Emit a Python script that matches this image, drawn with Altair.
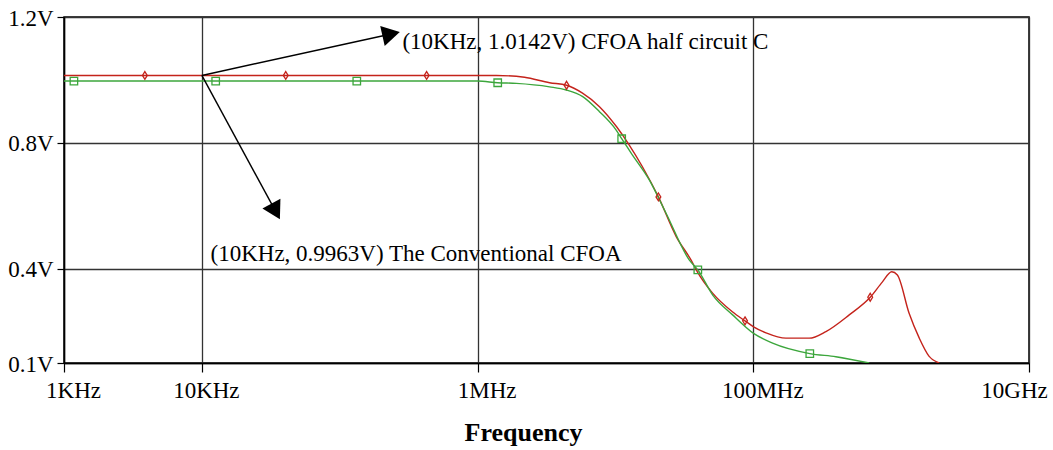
import altair as alt
import pandas as pd

# ---- data ----
# CFOA half circuit C (red)
red_freq = [1e3, 1e4, 1e5, 1.37e6, 2.19e6, 3.33e6, 4.42e6, 5.77e6, 7.66e6, 1.02e7,
            1.26e7, 1.57e7, 2.05e7, 2.76e7, 3.54e7, 3.93e7, 5.05e7, 7.05e7, 8.71e7,
            1.005e8, 1.236e8, 1.726e8, 2.547e8, 3.365e8, 4.966e8, 7.05e8, 8.65e8,
            1.01e9, 1.11e9, 1.35e9, 1.60e9, 1.88e9, 2.23e9]
red_volt = [1.0142, 1.0142, 1.0142, 1.0142, 1.0083, 0.991, 0.983, 0.958, 0.915, 0.851,
            0.793, 0.724, 0.628, 0.502, 0.427, 0.390, 0.323, 0.263, 0.234,
            0.215, 0.196, 0.179, 0.179, 0.200, 0.253, 0.309, 0.358,
            0.390, 0.380, 0.258, 0.179, 0.122, 0.100]
red_mark_freq = [3.86e3, 4.06e4, 4.27e5, 4.42e6, 2.05e7, 8.71e7, 7.05e8]
red_mark_volt = [1.0142, 1.0142, 1.0142, 0.983, 0.628, 0.234, 0.309]

# The Conventional CFOA (green)
green_freq = [1e3, 1e4, 1e5, 1.0e6, 1.40e6, 1.91e6, 3.33e6, 4.40e6, 5.79e6, 7.66e6,
              1.01e7, 1.11e7, 1.33e7, 1.76e7, 2.33e7, 3.44e7, 3.96e7, 5.08e7, 7.08e7,
              1.005e8, 1.38e8, 2.57e8, 3.97e8, 6.93e8]
green_volt = [0.9963, 0.9963, 0.9963, 0.9963, 0.991, 0.989, 0.978, 0.968, 0.947, 0.899,
              0.841, 0.813, 0.761, 0.682, 0.576, 0.427, 0.396, 0.316, 0.253,
              0.194, 0.163, 0.130, 0.120, 0.100]
green_mark_freq = [1.18e3, 1.26e4, 1.33e5, 1.40e6, 1.11e7, 3.96e7, 2.57e8]
green_mark_volt = [0.9963, 0.9963, 0.9963, 0.991, 0.813, 0.396, 0.130]

series_names = ["CFOA half circuit C", "The Conventional CFOA"]
series_colors = ["#c4231b", "#3ca63c"]

x_tick_values = [1e3, 1e4, 1e6, 1e8, 1e10]
x_tick_labels = ["1KHz", "10KHz", "1MHz", "100MHz", "10GHz"]
y_tick_values = [0.1, 0.4, 0.8, 1.2]
y_tick_labels = ["0.1V", "0.4V", "0.8V", "1.2V"]

# annotations (data coordinates)
ann_texts = ["(10KHz, 1.0142V) CFOA half circuit C", "(10KHz, 0.9963V) The Conventional CFOA"]
ann_freq = [2.85e5, 1.156e4]
ann_volt = [1.098, 0.4243]
arrow_from_freq = [1e4, 1e4]
arrow_from_volt = [1.0142, 1.0142]
arrow_to_freq = [2.36e5, 3.43e4]
arrow_to_volt = [1.146, 0.582]
arrow_angle = [77.4, 151.5]

FONT = "Liberation Serif"
FS = 23

# ---- tables ----
lines_df = pd.concat([
    pd.DataFrame({"freq": red_freq, "volt": red_volt, "series": series_names[0]}),
    pd.DataFrame({"freq": green_freq, "volt": green_volt, "series": series_names[1]}),
])
red_marks = pd.DataFrame({"freq": red_mark_freq, "volt": red_mark_volt})
green_marks = pd.DataFrame({"freq": green_mark_freq, "volt": green_mark_volt})
ann_df = pd.DataFrame({"freq": ann_freq, "volt": ann_volt, "text": ann_texts})
arrow_df = pd.DataFrame({"freq": arrow_from_freq, "volt": arrow_from_volt,
                         "freq2": arrow_to_freq, "volt2": arrow_to_volt})
head_df = pd.DataFrame({"freq": arrow_to_freq, "volt": arrow_to_volt, "angle": arrow_angle})


def label_expr(values, labels):
    parts = []
    for i in range(len(values) - 1):
        mid = (values[i] + values[i + 1]) / 2
        parts.append(f"datum.value < {mid} ? '{labels[i]}' : ")
    return "".join(parts) + f"'{labels[-1]}'"


x_axis = alt.Axis(
    values=x_tick_values, labelExpr=label_expr(x_tick_values, x_tick_labels),
    grid=True, gridColor="#333333", gridWidth=1.3,
    domainColor="black", domainWidth=1.5, tickColor="black", tickWidth=1.2, tickSize=9,
    labelFont=FONT, labelFontSize=FS, labelColor="black", labelBaseline="alphabetic",
    labelPadding=25, labelFlush=False, labelOverlap=False,
    labelOffset={"condition": [
        {"test": "datum.value < 2000", "value": 9},
        {"test": "datum.value > 5000 && datum.value < 50000", "value": 4},
        {"test": "datum.value > 5e9", "value": -15}], "value": 9},
    title="Frequency", titleFont=FONT, titleFontSize=26, titleFontWeight="bold",
    titleColor="black", titleX=459, titleY=77, titleAlign="center",
    titleBaseline="alphabetic", titleAnchor="start",
)
y_axis = alt.Axis(
    values=y_tick_values, labelExpr=label_expr(y_tick_values, y_tick_labels),
    grid=True, gridColor="#333333", gridWidth=1.3,
    domainColor="black", domainWidth=1.5, tickColor="black", tickWidth=1.2, tickSize=7,
    labelFont=FONT, labelFontSize=FS, labelColor="black", labelBaseline="alphabetic",
    labelOffset=8, labelPadding=4, labelOverlap=False, labelFlush=False, title=None,
)

x_enc = alt.X("freq:Q", scale=alt.Scale(type="log", domain=[1e3, 1e10], nice=False), axis=x_axis)
y_enc = alt.Y("volt:Q", scale=alt.Scale(domain=[0.1, 1.2], nice=False, zero=False), axis=y_axis)

lines = alt.Chart(lines_df).mark_line(strokeWidth=1.4, interpolate="monotone", clip=True).encode(
    x=x_enc, y=y_enc,
    color=alt.Color("series:N", scale=alt.Scale(domain=series_names, range=series_colors), legend=None),
    detail="series:N",
)

red_pts = alt.Chart(red_marks).mark_point(
    shape="M0,-1.3L0.8,0L0,1.3L-0.8,0Z", size=36, filled=False, color=series_colors[0],
    strokeWidth=1.3, opacity=1).encode(x=x_enc, y=y_enc)
green_pts = alt.Chart(green_marks).mark_point(
    shape="square", size=56, filled=False, color=series_colors[1],
    strokeWidth=1.3, opacity=1).encode(x=x_enc, y=y_enc)

arrows = alt.Chart(arrow_df).mark_rule(color="black", strokeWidth=1.4).encode(
    x=x_enc, y=y_enc, x2="freq2:Q", y2="volt2:Q")
heads = alt.Chart(head_df).mark_point(
    shape="triangle-up", size=420, filled=True, color="black", opacity=1).encode(
    x=x_enc, y=y_enc, angle=alt.Angle("angle:Q", scale=None))

texts = alt.Chart(ann_df).mark_text(
    align="left", baseline="alphabetic", font=FONT, fontSize=FS, color="black").encode(
    x=x_enc, y=y_enc, text="text:N")

chart = alt.layer(lines, red_pts, green_pts, arrows, heads, texts).properties(
    width=965, height=346,
    padding={"left": 64, "top": 17, "right": 24, "bottom": 87},
    autosize=alt.AutoSizeParams(type="none"),
    background="white",
).configure_view(stroke="black", strokeWidth=1.5)

chart.save("out.html", embed_options={"renderer": "svg", "actions": False})
